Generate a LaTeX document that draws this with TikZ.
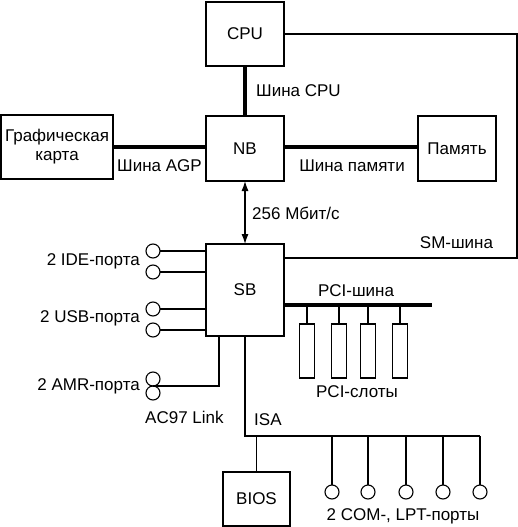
\documentclass[tikz,border=0pt]{standalone}
\usepackage{fontspec}
\setmainfont{Liberation Sans}
\usepackage{tikz}
\usetikzlibrary{shapes.geometric, arrows, arrows.meta}
\usetikzlibrary{positioning,calc}

\begin{document}
\begin{tikzpicture}[x=1pt,y=-1pt,font=\fontsize{17}{19}\selectfont]
	%defines
	\tikzstyle{chip} = [rectangle, minimum width=78pt, minimum height=65pt, text centered, draw=black, line width=1.2pt, inner sep=0pt, outer sep=0pt]
	\tikzstyle{slot} = [rectangle, minimum width=15pt, minimum height=54pt, draw=black, line width=1.1pt, inner sep=0pt, outer sep=0pt]
	\tikzstyle{port} = [circle, minimum size=14pt, draw=black, line width=1.1pt, inner sep=0pt, outer sep=0pt]
	\tikzstyle{busText} = [inner sep=0pt]
	\tikzstyle{bus} = [line width=4pt]
	\tikzstyle{wire} = [line width=1.1pt]
	\tikzstyle{arrow} = [line width=1.1pt,{Latex[length=10pt,width=7pt]}-{Latex[length=10pt,width=7pt]}]
	\useasboundingbox (0,0) rectangle (518,527);
	%chart
	\node (cpu) [chip, minimum height=64pt] at (245,34) {CPU};
	\node (nb) [chip] at (245,148.5) {NB};
	\node (gfx) [chip, minimum width=112pt, minimum height=64pt, align=center] at (57,147) {Графическая\\карта};
	\node (mem) [chip] at (457,148.5) {Память};
	\node (sb) [chip, minimum height=92pt] at (245,290) {SB};
	\node (bios) [chip, minimum width=67pt, minimum height=54pt] at (256.5,499) {BIOS};
	\node (slot1) [slot] at (307,351) {};
	\node (slot2) [slot] at (339,351) {};
	\node (slot3) [slot] at (368,351) {};
	\node (slot4) [slot] at (400,351) {};
	\node (ide1) [port] at (153,251) {};
	\node (ide2) [port] at (153,272) {};
	\node (usb1) [port] at (153,309) {};
	\node (usb2) [port] at (153,330) {};
	\node (amr1) [port] at (153,379) {};
	\node (amr2) [port] at (153,393) {};
	\node (com1) [port] at (332,492) {};
	\node (com2) [port] at (368,492) {};
	\node (com3) [port] at (406,492) {};
	\node (com4) [port] at (443,492) {};
	\node (com5) [port] at (480,492) {};
	\coordinate (smCorner) at (517,258);
	\coordinate (pciEnd) at (432,305);
	\coordinate (acLink) at (219,336);
	\coordinate (isaEnd) at (480,436);
	%labels
	\node (cpuBus) [busText, anchor=west] at (256,91) {Шина CPU};
	\node (agpBus) [busText] at (159.5,166) {Шина AGP};
	\node (memBus) [busText] at (352,166) {Шина памяти};
	\node (rate) [busText, anchor=west] at (252,213) {256 Мбит/с};
	\node (smBus) [busText] at (456.5,243) {SM-шина};
	\node (pciBus) [busText] at (356,291) {PCI-шина};
	\node (pciSlots) [busText] at (357,392) {PCI-слоты};
	\node (idePorts) [busText, anchor=east] at (140,261) {2 IDE-порта};
	\node (usbPorts) [busText, anchor=east] at (140,318) {2 USB-порта};
	\node (amrPorts) [busText, anchor=east] at (140,386) {2 AMR-порта};
	\node (acLinkText) [busText, anchor=west] at (145,417) {AC97 Link};
	\node (isaBus) [busText, anchor=west] at (254,420) {ISA};
	\node (comPorts) [busText] at (403,516) {2 COM-, LPT-порты};
	%connections
	\draw [bus] (cpu) -- (nb);
	\draw [bus] (gfx.east) -- (gfx.east -| nb.west);
	\draw [bus] (nb.east |- 0,147) -- (mem.west |- 0,147);
	\draw [arrow] (nb) -- (sb);
	\draw [wire] (cpu.east) -| (smCorner) -- (smCorner -| sb.east);
	\draw [bus] (sb.east |- pciEnd) -- (pciEnd);
	\draw [wire] (slot1.north) -- (slot1 |- pciEnd);
	\draw [wire] (slot2.north) -- (slot2 |- pciEnd);
	\draw [wire] (slot3.north) -- (slot3 |- pciEnd);
	\draw [wire] (slot4.north) -- (slot4 |- pciEnd);
	\draw [wire] (ide1.east) -- (ide1 -| sb.west);
	\draw [wire] (ide2.east) -- (ide2 -| sb.west);
	\draw [wire] (usb1.east) -- (usb1 -| sb.west);
	\draw [wire] (usb2.east) -- (usb2 -| sb.west);
	\draw [wire] (amr1.south) -| (acLink);
	\draw [wire] (sb.south) |- (isaEnd);
	\draw [wire] (bios.north) -- (bios.north |- isaEnd);
	\draw [wire] (com1.north) -- (com1 |- isaEnd);
	\draw [wire] (com2.north) -- (com2 |- isaEnd);
	\draw [wire] (com3.north) -- (com3 |- isaEnd);
	\draw [wire] (com4.north) -- (com4 |- isaEnd);
	\draw [wire] (com5.north) -- (com5 |- isaEnd);
\end{tikzpicture}
\end{document}
